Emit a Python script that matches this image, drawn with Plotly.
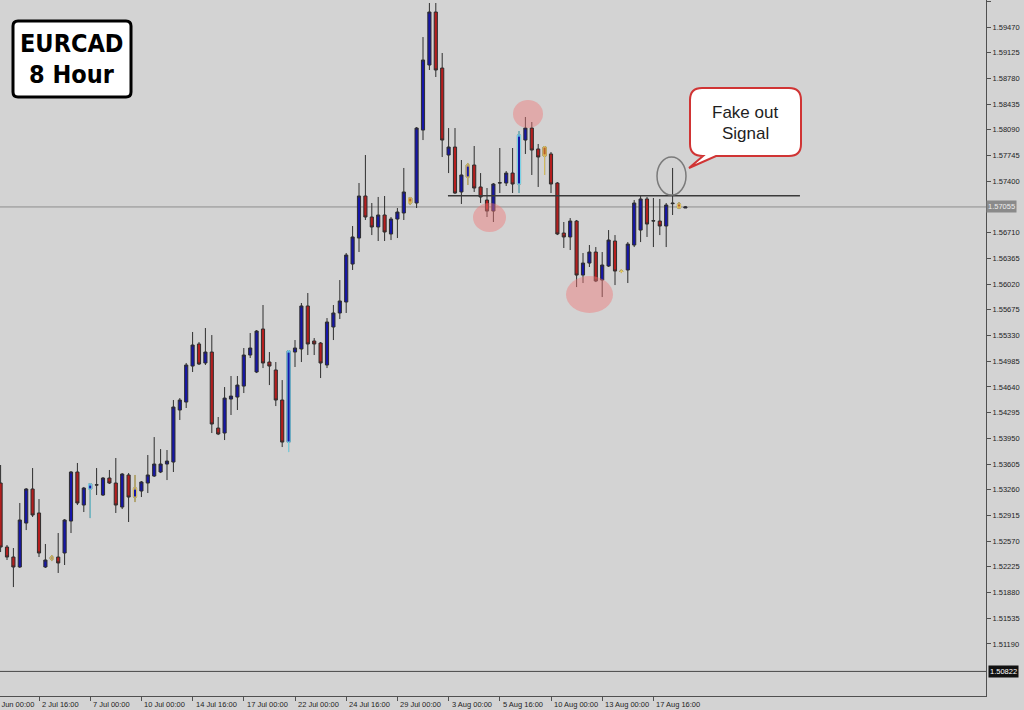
import plotly.graph_objects as go

# ---------------- data ----------------
bar_index = list(range(108))

opens = [1.53350, 1.52491, 1.52357, 1.52223, 1.52813, 1.53270, 1.52948, 1.52223, 1.52330, 1.52357,
         1.52411, 1.52840, 1.53498, 1.53055, 1.53270, 1.53323, 1.53189, 1.53417, 1.53350, 1.53028,
         1.53458, 1.53162, 1.53243, 1.53350, 1.53444, 1.53498, 1.53605, 1.53632, 1.54330, 1.54437,
         1.54920, 1.55216, 1.54961, 1.55108, 1.54088, 1.54021, 1.54477, 1.54504, 1.54651, 1.55068,
         1.54840, 1.55417, 1.54974, 1.54867, 1.54464, 1.53900, 1.55108, 1.55149, 1.55726, 1.55256,
         1.55229, 1.54934, 1.55444, 1.55632, 1.55779, 1.56289, 1.56638, 1.57202, 1.56920, 1.56786,
         1.56947, 1.56692, 1.56893, 1.56974, 1.57175, 1.57108, 1.58087, 1.58960, 1.59671, 1.58919,
         1.57752, 1.57859, 1.57256, 1.57457, 1.57618, 1.57323, 1.57148, 1.57000, 1.57376, 1.57376,
         1.57510, 1.57363, 1.57953, 1.58114, 1.57833, 1.57859, 1.57766, 1.57376, 1.56705, 1.56652,
         1.56866, 1.56141, 1.56302, 1.56450, 1.56074, 1.56262, 1.56598, 1.56195, 1.56209, 1.56544,
         1.56745, 1.57162, 1.56866, 1.56866, 1.56799, 1.57108, 1.57095, 1.57041]

highs = [1.53592, 1.52518, 1.52478, 1.53082, 1.53283, 1.53551, 1.53135, 1.52532, 1.52384, 1.52679,
         1.52867, 1.53511, 1.53619, 1.53297, 1.53350, 1.53551, 1.53431, 1.53525, 1.53686, 1.53484,
         1.53484, 1.53458, 1.53377, 1.53726, 1.53967, 1.53806, 1.53793, 1.54464, 1.54490, 1.54961,
         1.55377, 1.55242, 1.55430, 1.55336, 1.54236, 1.54638, 1.54786, 1.54786, 1.55162, 1.55363,
         1.55403, 1.55739, 1.55108, 1.54974, 1.54732, 1.55135, 1.55269, 1.55766, 1.55900, 1.55296,
         1.55242, 1.55564, 1.55739, 1.56074, 1.56437, 1.56799, 1.57376, 1.57752, 1.57108, 1.57189,
         1.57202, 1.56920, 1.57041, 1.57578, 1.57189, 1.58127, 1.59335, 1.59792, 1.59792, 1.59121,
         1.58114, 1.58114, 1.57685, 1.57645, 1.57873, 1.57510, 1.57309, 1.57376, 1.57846, 1.57537,
         1.57846, 1.58074, 1.58262, 1.58195, 1.57900, 1.57873, 1.57792, 1.57389, 1.56853, 1.56906,
         1.56880, 1.56437, 1.56544, 1.56517, 1.56450, 1.56745, 1.56678, 1.56222, 1.56584, 1.57148,
         1.57215, 1.57189, 1.57175, 1.57162, 1.57108, 1.57578, 1.57121, 1.57068]

lows = [1.52424, 1.52317, 1.51954, 1.52210, 1.52719, 1.52894, 1.52357, 1.52210, 1.52303, 1.52143,
        1.52250, 1.52679, 1.53055, 1.52961, 1.52880, 1.53189, 1.53176, 1.53337, 1.52948, 1.53001,
        1.52827, 1.53095, 1.53162, 1.53216, 1.53431, 1.53484, 1.53390, 1.53498, 1.54196, 1.54357,
        1.54840, 1.54934, 1.54934, 1.54021, 1.53994, 1.53927, 1.54263, 1.54330, 1.54558, 1.55028,
        1.54826, 1.54893, 1.54665, 1.54383, 1.53833, 1.53766, 1.54907, 1.54974, 1.55068, 1.55068,
        1.54759, 1.54893, 1.55269, 1.55551, 1.55632, 1.56209, 1.56450, 1.56880, 1.56678, 1.56598,
        1.56598, 1.56611, 1.56638, 1.56880, 1.57081, 1.57041, 1.57953, 1.58893, 1.58799, 1.57725,
        1.57510, 1.57229, 1.57095, 1.57350, 1.57256, 1.57108, 1.56920, 1.56853, 1.57242, 1.57336,
        1.57242, 1.57242, 1.57766, 1.57484, 1.57323, 1.57484, 1.57242, 1.56678, 1.56504, 1.56477,
        1.55980, 1.56034, 1.56249, 1.56047, 1.55846, 1.56249, 1.56007, 1.56168, 1.56034, 1.56517,
        1.56584, 1.56652, 1.56517, 1.56678, 1.56517, 1.56947, 1.57027, 1.57041]

closes = [1.52491, 1.52357, 1.52223, 1.52854, 1.53270, 1.52921, 1.52411, 1.52317, 1.52357, 1.52277,
          1.52854, 1.53498, 1.53082, 1.53283, 1.53337, 1.53326, 1.53417, 1.53350, 1.53055, 1.53471,
          1.53162, 1.53283, 1.53364, 1.53458, 1.53605, 1.53605, 1.53645, 1.54370, 1.54464, 1.54934,
          1.55202, 1.54947, 1.55108, 1.54142, 1.54008, 1.54490, 1.54517, 1.54665, 1.55068, 1.55162,
          1.55390, 1.54961, 1.54920, 1.54464, 1.53900, 1.55122, 1.55162, 1.55726, 1.55216, 1.55216,
          1.54961, 1.55511, 1.55632, 1.55793, 1.56410, 1.56652, 1.57202, 1.56920, 1.56786, 1.56947,
          1.56719, 1.56893, 1.56987, 1.57256, 1.57108, 1.58114, 1.59027, 1.59671, 1.58893, 1.57953,
          1.57859, 1.57242, 1.57484, 1.57618, 1.57309, 1.57189, 1.57000, 1.57363, 1.57380, 1.57510,
          1.57363, 1.58020, 1.58114, 1.57819, 1.57725, 1.57739, 1.57363, 1.56692, 1.56652, 1.56866,
          1.56141, 1.56302, 1.56450, 1.56061, 1.56276, 1.56611, 1.56195, 1.56190, 1.56557, 1.57108,
          1.57162, 1.56826, 1.56870, 1.56799, 1.57081, 1.57100, 1.57041, 1.57055]

x_tick_bars = [-2, 6, 14, 22, 30, 38, 46, 54, 62, 70, 78, 86, 94, 102]
x_tick_labels = ["30 Jun 00:00", "2 Jul 16:00", "7 Jul 00:00", "10 Jul 00:00", "14 Jul 16:00",
                 "17 Jul 00:00", "22 Jul 00:00", "24 Jul 16:00", "29 Jul 00:00", "3 Aug 00:00",
                 "5 Aug 16:00", "10 Aug 00:00", "13 Aug 00:00", "17 Aug 16:00"]

# (1.57055 and 1.50845 sit under the price boxes in the reference)
y_tick_values = [1.59815, 1.59470, 1.59125, 1.58780, 1.58435, 1.58090, 1.57745, 1.57400,
                 1.56710, 1.56365, 1.56020, 1.55675, 1.55330, 1.54985, 1.54640, 1.54295, 1.53950,
                 1.53605, 1.53260, 1.52915, 1.52570, 1.52225, 1.51880, 1.51535, 1.51190]
y_tick_labels = ["1.59815", "1.59470", "1.59125", "1.58780", "1.58435", "1.58090", "1.57745",
                 "1.57400", "1.56710", "1.56365", "1.56020", "1.55675", "1.55330",
                 "1.54985", "1.54640", "1.54295", "1.53950", "1.53605", "1.53260", "1.52915",
                 "1.52570", "1.52225", "1.51880", "1.51535", "1.51190"]

resistance_level = 1.57206
resistance_from_bar = 69.9
resistance_to_bar = 124.9
hline_level = 1.50822
symbol_text = "EURCAD"
timeframe_text = "8 Hour"
callout_lines = ["Fake out", "Signal"]

# ---------------- styling ----------------
W, H = 1024, 710
PW, PH = 986, 696          # plot area in pixels (left/top at 0)
X_RANGE = [-0.094, 153.97]
Y_RANGE = [1.50492, 1.598323]
BG = "#d3d3d3"
BULL = "#1616a8"
BEAR = "#b41e1e"
WICK = "#2e2e2e"
cyan_bars = [14, 45, 81]
yellow_bars = [8, 21, 64, 73, 85, 97, 106]


def fx(px):
    return px / PW


def fy(py):
    return 1 - py / PH


def rounded_rect(x0, y0, x1, y1, r):
    return (f"M {fx(x0 + r)} {fy(y0)} L {fx(x1 - r)} {fy(y0)} Q {fx(x1)} {fy(y0)} {fx(x1)} {fy(y0 + r)} "
            f"L {fx(x1)} {fy(y1 - r)} Q {fx(x1)} {fy(y1)} {fx(x1 - r)} {fy(y1)} "
            f"L {fx(x0 + r)} {fy(y1)} Q {fx(x0)} {fy(y1)} {fx(x0)} {fy(y1 - r)} "
            f"L {fx(x0)} {fy(y0 + r)} Q {fx(x0)} {fy(y0)} {fx(x0 + r)} {fy(y0)} Z")


def callout_path(x0, y0, x1, y1, r, tail):
    (bx1, by1), (tx, ty), (bx0, by0) = tail
    return (f"M {fx(x0 + r)} {fy(y0)} L {fx(x1 - r)} {fy(y0)} Q {fx(x1)} {fy(y0)} {fx(x1)} {fy(y0 + r)} "
            f"L {fx(x1)} {fy(y1 - r)} Q {fx(x1)} {fy(y1)} {fx(x1 - r)} {fy(y1)} "
            f"L {fx(bx1)} {fy(by1)} L {fx(tx)} {fy(ty)} L {fx(bx0)} {fy(by0)} "
            f"Q {fx(x0)} {fy(y1)} {fx(x0)} {fy(y1 - r)} "
            f"L {fx(x0)} {fy(y0 + r)} Q {fx(x0)} {fy(y0)} {fx(x0 + r)} {fy(y0)} Z")


def subset(idx):
    return ([bar_index[i] for i in idx], [opens[i] for i in idx], [highs[i] for i in idx],
            [lows[i] for i in idx], [closes[i] for i in idx])


fig = go.Figure()
fig.add_trace(go.Candlestick(
    x=bar_index, open=opens, high=highs, low=lows, close=closes,
    increasing=dict(fillcolor=BULL, line=dict(color=WICK, width=1)),
    decreasing=dict(fillcolor=BEAR, line=dict(color=WICK, width=1)),
    hoverinfo="skip", showlegend=False))

for idx, col, dfill in [(cyan_bars, "#7fdcec", BEAR), (yellow_bars, "#e2c862", "#b8602c")]:
    xs, o, h, l, c = subset(idx)
    fig.add_trace(go.Candlestick(
        x=xs, open=o, high=h, low=l, close=c,
        increasing=dict(fillcolor=BULL, line=dict(color=col, width=1)),
        decreasing=dict(fillcolor=dfill, line=dict(color=col, width=1)),
        hoverinfo="skip", showlegend=False))

shapes = [
    dict(type="line", xref="paper", yref="y", x0=0, x1=1, y0=closes[-1], y1=closes[-1],
         line=dict(color="#8e8e8e", width=1), layer="below"),
    dict(type="line", xref="paper", yref="y", x0=0, x1=1, y0=hline_level, y1=hline_level,
         line=dict(color="#484848", width=1), layer="below"),
    dict(type="line", xref="x", yref="y", x0=resistance_from_bar, x1=resistance_to_bar,
         y0=resistance_level, y1=resistance_level, line=dict(color="#3a3a3a", width=1.5)),
    dict(type="circle", xref="paper", yref="paper", x0=fx(513), x1=fx(543), y0=fy(100), y1=fy(128),
         fillcolor="rgba(240,120,120,0.45)", line=dict(width=0)),
    dict(type="circle", xref="paper", yref="paper", x0=fx(473), x1=fx(506), y0=fy(203), y1=fy(232),
         fillcolor="rgba(240,120,120,0.45)", line=dict(width=0)),
    dict(type="circle", xref="paper", yref="paper", x0=fx(566), x1=fx(613), y0=fy(276), y1=fy(313),
         fillcolor="rgba(240,120,120,0.45)", line=dict(width=0)),
    dict(type="circle", xref="paper", yref="paper", x0=fx(657), x1=fx(686), y0=fy(157), y1=fy(195),
         line=dict(color="#7a7a7a", width=1.5)),
    dict(type="path", xref="paper", yref="paper", path=rounded_rect(13, 21, 131, 97, 5),
         fillcolor="white", line=dict(color="black", width=3)),
    dict(type="path", xref="paper", yref="paper",
         path=callout_path(690, 88, 801, 156, 12, [(716, 156), (689, 168), (703, 156)]),
         fillcolor="white", line=dict(color="#d03434", width=2)),
]

annotations = []
title_font = dict(family="Liberation Sans Narrow, DejaVu Sans Condensed, Arial Narrow, sans-serif",
                  size=25, color="black")
annotations.append(dict(xref="paper", yref="paper", x=fx(72), y=fy(44), text=f"<b>{symbol_text}</b>",
                        showarrow=False, font=title_font, xanchor="center", yanchor="middle"))
annotations.append(dict(xref="paper", yref="paper", x=fx(72), y=fy(74), text=f"<b>{timeframe_text}</b>",
                        showarrow=False, font=title_font, xanchor="center", yanchor="middle"))
call_font = dict(family="Liberation Sans, Arial, sans-serif", size=17, color="#1e1e1e")
for k, line in enumerate(callout_lines):
    annotations.append(dict(xref="paper", yref="paper", x=fx(745), y=fy(112 + 21 * k), text=line,
                            showarrow=False, font=call_font, xanchor="center", yanchor="middle"))

tick_font = dict(family="Liberation Sans, Arial, sans-serif", size=7.5, color="#1e1e1e")
for b, lab in zip(x_tick_bars, x_tick_labels):
    px = (b - X_RANGE[0]) / (X_RANGE[1] - X_RANGE[0])
    annotations.append(dict(xref="paper", yref="paper", x=px, y=0, text=lab, showarrow=False,
                            xanchor="left", yanchor="top", xshift=1, yshift=-2, font=tick_font))

annotations.append(dict(xref="paper", yref="y", x=1, y=closes[-1], text=f"{closes[-1]:.5f}",
                        showarrow=False, xanchor="left", yanchor="middle", xshift=0,
                        bgcolor="#8a8a8a", borderpad=1,
                        font=dict(family="Liberation Sans, Arial, sans-serif", size=7.5, color="#eeeeee")))
annotations.append(dict(xref="paper", yref="y", x=1, y=hline_level, text=f"{hline_level:.5f}",
                        showarrow=False, xanchor="left", yanchor="middle", xshift=2,
                        bgcolor="#111111", borderpad=1,
                        font=dict(family="Liberation Sans, Arial, sans-serif", size=7.5, color="white")))

fig.update_layout(
    width=W, height=H,
    margin=dict(l=0, r=W - PW, t=0, b=H - PH, pad=0, autoexpand=False),
    paper_bgcolor=BG, plot_bgcolor=BG,
    shapes=shapes, annotations=annotations,
    showlegend=False, boxgap=0.3,
    xaxis=dict(range=X_RANGE, showgrid=False, zeroline=False, showline=True, linecolor="#505050",
               linewidth=1, ticks="outside", ticklen=4, tickcolor="#505050",
               tickvals=x_tick_bars, showticklabels=False, rangeslider=dict(visible=False),
               fixedrange=True, automargin=False),
    yaxis=dict(range=Y_RANGE, side="right", showgrid=False, zeroline=False, showline=True,
               linecolor="#505050", linewidth=1, ticks="outside", ticklen=4, tickcolor="#505050",
               tickvals=y_tick_values, ticktext=y_tick_labels, tickfont=tick_font, fixedrange=True,
               automargin=False),
)

fig.write_html("out.html", config={"displayModeBar": False},
               post_script="document.body.style.margin='0';document.body.style.overflow='hidden';"
                           "document.body.style.background='" + BG + "';")
